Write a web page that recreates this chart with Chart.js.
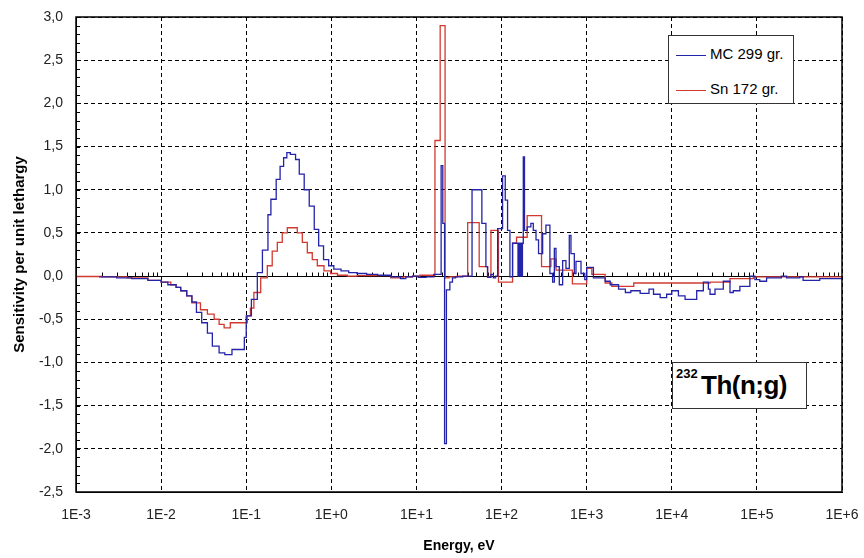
<!DOCTYPE html>
<html>
<head>
<meta charset="utf-8">
<script src="https://cdn.jsdelivr.net/npm/chart.js@4.4.0/dist/chart.umd.min.js"></script>
<style>
  html, body { margin: 0; padding: 0; background: #fff; }
  #wrap { position: relative; width: 864px; height: 558px; font-family: Arial, "Liberation Sans", sans-serif; }
  #legendBox { position: absolute; left: 668px; top: 35px; width: 124px; height: 67px; border: 1px solid #333; background: #fff; }
  .legItem { position: absolute; left: 7px; height: 18px; font-size: 15px; color: #000; white-space: nowrap; }
  .legItem span.line { display: inline-block; width: 30px; height: 0; border-top: 1.3px solid; vertical-align: middle; margin-right: 4px; }
  #noteBox { position: absolute; left: 672px; top: 362px; width: 133px; height: 45px; border: 1px solid #333; background: #fff; font-weight: bold; color: #000; }
  #noteBox .sup { position: absolute; left: 3px; top: 3px; font-size: 13px; }
  #noteBox .main { position: absolute; left: 28px; top: 7px; font-size: 26px; letter-spacing: -0.5px; }
</style>
</head>
<body>
<div id="wrap">
  <canvas id="sensChart" width="864" height="558"></canvas>
  <div id="legendBox">
    <div class="legItem" style="top:9px"><span class="line" style="border-color:#2424a8"></span>MC 299 gr.</div>
    <div class="legItem" style="top:44px"><span class="line" style="border-color:#d23a30"></span>Sn 172 gr.</div>
  </div>
  <div id="noteBox"><span class="sup">232</span><span class="main">Th(n;g)</span></div>
</div>
<script>
// tick values / labels
const xTickValues = [1e-3, 1e-2, 1e-1, 1e0, 1e1, 1e2, 1e3, 1e4, 1e5, 1e6];
const xTickLabels = ['1E-3', '1E-2', '1E-1', '1E+0', '1E+1', '1E+2', '1E+3', '1E+4', '1E+5', '1E+6'];
const yMin = -2.5;
const yMax = 3.0;
const yStep = 0.5;

// MC 299 groups: lower group energy (eV) and sensitivity
const mcEnergy = [1.9e-3, 3.0e-3, 4.5e-3, 7.0e-3, 1.0e-2, 1.2e-2, 1.5e-2, 1.7e-2, 2.0e-2, 2.3e-2,
  2.6e-2, 3.0e-2, 3.5e-2, 4.0e-2, 4.8e-2, 5.6e-2, 6.8e-2, 9.5e-2, 0.1, 0.115,
  0.135, 0.155, 0.18, 0.195, 0.225, 0.25, 0.275, 0.30, 0.33, 0.38,
  0.42, 0.48, 0.55, 0.63, 0.71, 0.81, 0.93, 1.07, 1.3, 1.6,
  2.0, 2.6, 3.5, 5.0, 6.5, 7.5, 9.0, 10.5, 13, 16,
  19.5, 20.4, 21.4, 22.5, 24.7, 26.5, 28.8, 35, 45, 58.7,
  65.5, 68.5, 75, 80, 85, 90, 102.8, 110.5, 117.7, 125.4,
  134.7, 156, 160, 163, 168, 171, 176, 180, 186, 200,
  221, 236, 254, 272, 304, 332, 370, 398, 417, 436,
  477, 522, 571, 625, 654, 716, 749, 858, 950, 1000,
  1200, 1650, 1890, 2370, 2850, 3300, 4250, 5400, 6100, 7300,
  8700, 10000, 11970, 14330, 19630, 23500, 26900, 28150, 32200, 40300,
  48300, 52800, 63100, 82700, 94800, 108000, 130000, 194000, 223000, 319000,
  349000, 547000, 785000, 1e6];
const mcValue = [-0.005, -0.01, -0.02, -0.03, -0.05, -0.07, -0.1, -0.13, -0.17, -0.23,
  -0.3, -0.42, -0.54, -0.66, -0.81, -0.89, -0.91, -0.85, -0.71, -0.46,
  -0.27, 0.04, 0.3, 0.71, 0.89, 1.12, 1.27, 1.37, 1.43, 1.41,
  1.35, 1.18, 1.0, 0.81, 0.54, 0.35, 0.19, 0.12, 0.08, 0.06,
  0.04, 0.03, 0.02, 0.01, -0.01, -0.03, -0.01, 0.0, -0.015, -0.01,
  0.02, 1.28, 0.61, -1.94, -0.16, -0.07, -0.02, -0.01, 0.0, 1.0,
  0.61, 0.11, -0.015, 0.02, -0.02, 0.0, 0.55, 1.16, 0.88, 0.53,
  -0.01, 0.38, 0.0, 0.38, 0.0, 0.38, 0.0, 0.38, 1.38, 0.53,
  0.57, 0.61, 0.53, 0.42, 0.26, 0.49, 0.59, 0.03, -0.07, 0.32,
  0.11, -0.1, 0.18, 0.09, 0.47, 0.26, 0.03, 0.17, 0.03, -0.04,
  0.1, -0.02, -0.06, -0.1, -0.15, -0.19, -0.17, -0.2, -0.15, -0.21,
  -0.25, -0.21, -0.17, -0.23, -0.27, -0.17, -0.07, -0.15, -0.21, -0.15,
  -0.06, -0.19, -0.17, -0.12, 0.0, -0.04, -0.06, -0.02, 0.0, -0.02,
  -0.01, -0.05, -0.03, -0.03];

// Sn 172 groups
const snEnergy = [1.0e-3, 2.0e-3, 4.0e-3, 7.0e-3, 1.0e-2, 1.3e-2, 1.5e-2, 1.7e-2, 2.0e-2, 2.3e-2,
  2.9e-2, 3.5e-2, 4.2e-2, 4.8e-2, 5.5e-2, 6.5e-2, 0.103, 0.112, 0.123, 0.148,
  0.177, 0.202, 0.232, 0.265, 0.304, 0.348, 0.398, 0.456, 0.522, 0.597,
  0.684, 0.82, 0.98, 1.18, 1.54, 2.0, 5, 7, 9, 11,
  16.5, 19, 21.7, 24.2, 30, 40, 54.6, 68.5, 75, 92,
  134.7, 150, 200, 295, 380, 436, 680, 1000, 1150, 1650,
  1977, 3574, 28150, 48300, 90600, 99000, 1e6];
const snValue = [0, -0.005, -0.01, -0.02, -0.05, -0.07, -0.1, -0.13, -0.17, -0.23,
  -0.31, -0.39, -0.44, -0.5, -0.56, -0.6, -0.54, -0.46, -0.37, -0.19,
  -0.02, 0.12, 0.29, 0.39, 0.5, 0.56, 0.56, 0.5, 0.39, 0.27,
  0.19, 0.12, 0.06, 0.03, 0.01, 0.0, 0.005, -0.02, -0.01, 0.0,
  0.01, 1.57, 2.9, -0.02, -0.01, 0.0, 0.62, 0.11, -0.01, 0.53,
  -0.07, 0.38, 0.45, 0.7, 0.11, 0.2, 0.07, -0.09, 0.09, 0.02,
  -0.08, -0.12, -0.08, -0.07, -0.03, -0.01, -0.01];

const toPoints = (xs, ys) => xs.map((x, i) => ({ x: x, y: ys[i] }));

// axis decorations: solid frame, zero axis line with log minor ticks, y minor ticks
const framePlugin = {
  id: 'framePlugin',
  beforeDatasetsDraw(chart) {
    const { ctx, chartArea, scales } = chart;
    const xs = scales.x, ys = scales.y;
    const y0 = Math.round(ys.getPixelForValue(0)) + 0.5;
    ctx.save();
    ctx.strokeStyle = '#000';
    ctx.lineWidth = 1;
    ctx.beginPath();
    ctx.moveTo(chartArea.left, y0);
    ctx.lineTo(chartArea.right, y0);
    for (let p = -3; p < 6; p++) {
      for (let m = 2; m <= 9; m++) {
        const px = Math.round(xs.getPixelForValue(m * Math.pow(10, p))) + 0.5;
        ctx.moveTo(px, y0);
        ctx.lineTo(px, y0 - 4);
      }
    }
    for (let v = yMin; v <= yMax + 1e-9; v += 0.1) {
      const py = Math.round(ys.getPixelForValue(v)) + 0.5;
      ctx.moveTo(chartArea.left, py);
      ctx.lineTo(chartArea.left + 4, py);
    }
    ctx.stroke();
    ctx.restore();
  },
  afterDraw(chart) {
    const { ctx, chartArea } = chart;
    ctx.save();
    ctx.strokeStyle = '#000';
    ctx.lineWidth = 1.5;
    ctx.strokeRect(chartArea.left, chartArea.top, chartArea.right - chartArea.left, chartArea.bottom - chartArea.top);
    ctx.restore();
  }
};

const ctx = document.getElementById('sensChart');
new Chart(ctx, {
  type: 'line',
  data: {
    datasets: [
      {
        label: 'MC 299 gr.',
        data: toPoints(mcEnergy, mcValue),
        borderColor: '#2424a8',
        borderWidth: 1.3,
        stepped: 'after',
        pointRadius: 0,
        fill: false
      },
      {
        label: 'Sn 172 gr.',
        data: toPoints(snEnergy, snValue),
        borderColor: '#d23a30',
        borderWidth: 1.3,
        stepped: 'after',
        pointRadius: 0,
        fill: false
      }
    ]
  },
  options: {
    responsive: false,
    animation: false,
    layout: { padding: { left: 0, top: 17, right: 22, bottom: 0 } },
    plugins: {
      legend: { display: false },
      tooltip: { enabled: false }
    },
    scales: {
      x: {
        type: 'logarithmic',
        min: 1e-3,
        max: 1e6,
        afterBuildTicks: (scale) => {
          scale.ticks = xTickValues.map((v) => ({ value: v }));
        },
        afterFit: (scale) => {
          scale.height = 66;
          scale.paddingLeft = 0;
          scale.paddingRight = 0;
        },
        ticks: {
          autoSkip: false,
          maxRotation: 0,
          padding: 15,
          color: '#222',
          font: { family: 'Arial, "Liberation Sans", sans-serif', size: 14 },
          callback: (value) => xTickLabels[xTickValues.indexOf(value)]
        },
        grid: { color: '#000', lineWidth: 1, drawTicks: false },
        border: { display: true, color: '#000', width: 1, dash: [4, 3] },
        title: {
          display: true,
          text: 'Energy, eV',
          color: '#000',
          font: { family: 'Arial, "Liberation Sans", sans-serif', size: 14, weight: 'bold' },
          padding: { top: 0, bottom: 3 }
        }
      },
      y: {
        min: yMin,
        max: yMax,
        afterFit: (scale) => {
          scale.width = 76;
          scale.paddingTop = 0;
          scale.paddingBottom = 0;
        },
        ticks: {
          stepSize: yStep,
          padding: 13,
          color: '#222',
          font: { family: 'Arial, "Liberation Sans", sans-serif', size: 14 },
          callback: (value) => value.toFixed(1).replace('.', ',')
        },
        grid: { color: '#000', lineWidth: 1, drawTicks: false },
        border: { display: true, color: '#000', width: 1, dash: [4, 3] },
        title: {
          display: true,
          text: 'Sensitivity per unit lethargy',
          color: '#000',
          font: { family: 'Arial, "Liberation Sans", sans-serif', size: 15, weight: 'bold' },
          padding: { top: 11, bottom: 0 }
        }
      }
    }
  },
  plugins: [framePlugin]
});
</script>
</body>
</html>
